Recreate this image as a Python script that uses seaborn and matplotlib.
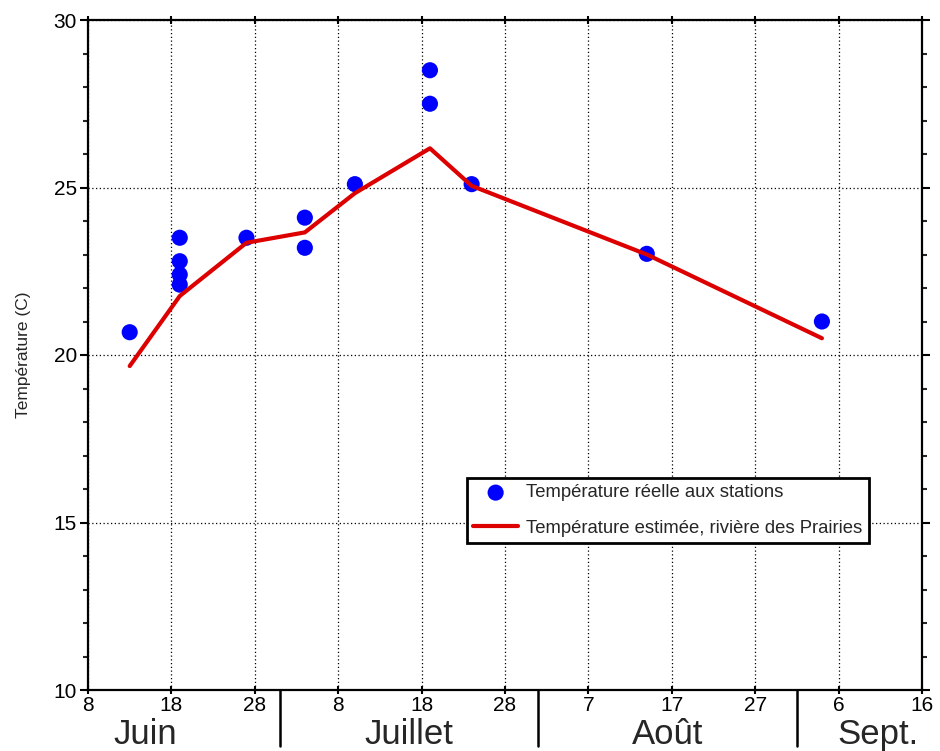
import matplotlib
matplotlib.use("Agg")
import matplotlib.pyplot as plt
import matplotlib.dates as mdates
from matplotlib.ticker import MultipleLocator, FixedLocator
import seaborn as sns
import pandas as pd
import numpy as np

# ---- data ----
station_dates = ["2000-06-13", "2000-06-19", "2000-06-19", "2000-06-19", "2000-06-19",
                 "2000-06-27", "2000-07-04", "2000-07-04", "2000-07-10",
                 "2000-07-19", "2000-07-19", "2000-07-24", "2000-08-14", "2000-09-04"]
station_temps = [20.68, 23.5, 22.8, 22.4, 22.1,
                 23.5, 24.1, 23.2, 25.1,
                 28.5, 27.5, 25.1, 23.02, 21.0]

est_dates = ["2000-06-13", "2000-06-19", "2000-06-27", "2000-07-04", "2000-07-10",
             "2000-07-19", "2000-07-24", "2000-08-14", "2000-09-04"]
est_temps = [19.67, 21.76, 23.35, 23.66, 24.83, 26.17, 25.05, 23.0, 20.5]

tick_dates = ["2000-06-08", "2000-06-18", "2000-06-28", "2000-07-08", "2000-07-18",
              "2000-07-28", "2000-08-07", "2000-08-17", "2000-08-27", "2000-09-06",
              "2000-09-16"]
tick_labels = ["8", "18", "28", "8", "18", "28", "7", "17", "27", "6", "16"]

month_names = ["Juin", "Juillet", "Août", "Sept."]
month_label_dates = ["2000-06-14 20:00", "2000-07-16 12:00", "2000-08-16 12:00", "2000-09-10 18:00"]
month_sep_dates = ["2000-07-01", "2000-08-01", "2000-09-01"]

label_pts = "Température réelle aux stations"
label_line = "Température estimée, rivière des Prairies"

df_pts = pd.DataFrame({"date": pd.to_datetime(station_dates), "temp": station_temps})
df_line = pd.DataFrame({"date": pd.to_datetime(est_dates), "temp": est_temps})

# ---- style ----
sns.set_style("white")
plt.rcParams["font.family"] = ["Liberation Sans", "DejaVu Sans"]

fig = plt.figure(figsize=(9.4, 7.51), dpi=100)
ax = fig.add_axes([88 / 940, 1 - 690 / 751, (922 - 88) / 940, (690 - 20) / 751])

sns.scatterplot(data=df_pts, x="date", y="temp", ax=ax, color="#0000ff", s=135,
                edgecolor="none", label=label_pts, zorder=3)
sns.lineplot(data=df_line, x="date", y="temp", ax=ax, color="#dd0000", linewidth=3.0,
             label=label_line, zorder=4)

xt = mdates.date2num(pd.to_datetime(tick_dates))
ax.set_xlim(xt[0], xt[-1])
ax.set_ylim(10, 30)

ax.xaxis.set_major_locator(FixedLocator(xt))
ax.set_xticklabels(tick_labels)
ax.yaxis.set_major_locator(MultipleLocator(5))
ax.yaxis.set_minor_locator(MultipleLocator(1))

ax.grid(True, which="major", color="black", linestyle=(0, (1, 2)), linewidth=0.9)
for s in ax.spines.values():
    s.set_visible(True)
    s.set_color("black")
    s.set_linewidth(1.6)

ax.tick_params(axis="y", which="major", direction="out", length=6, width=1.5,
               labelsize=15, right=True, left=True, pad=2, colors="black")
ax.tick_params(axis="y", which="minor", direction="out", length=3.5, width=1.5,
               right=True, left=True)
ax.tick_params(axis="x", which="major", direction="inout", length=6, width=1.5,
               labelsize=15, top=True, bottom=True, pad=1.5, colors="black")
ax.set_xlabel("")
ax.set_ylabel("Température (C)", fontsize=12.5, labelpad=16)

# month separators & labels
for d in month_sep_dates:
    ax.axvline(mdates.date2num(pd.Timestamp(d)), ymin=-0.083, ymax=0, color="black",
               linewidth=1.8, clip_on=False)
for name, d in zip(month_names, month_label_dates):
    ax.text(mdates.date2num(pd.Timestamp(d)), -0.066, name, transform=ax.get_xaxis_transform(),
            ha="center", va="center", fontsize=25)

leg = ax.legend(loc="upper left", bbox_to_anchor=((467 - 88) / 834, 1 - (478 - 20) / 670),
                fontsize=13.3, frameon=True, fancybox=False, framealpha=1, borderpad=0.35,
                handlelength=2.4, handletextpad=0.45, labelspacing=1.0, borderaxespad=0,
                markerscale=1.0)
leg.get_frame().set_edgecolor("black")
leg.get_frame().set_linewidth(2.0)

fig.savefig("out.png", dpi=100, facecolor="white")
